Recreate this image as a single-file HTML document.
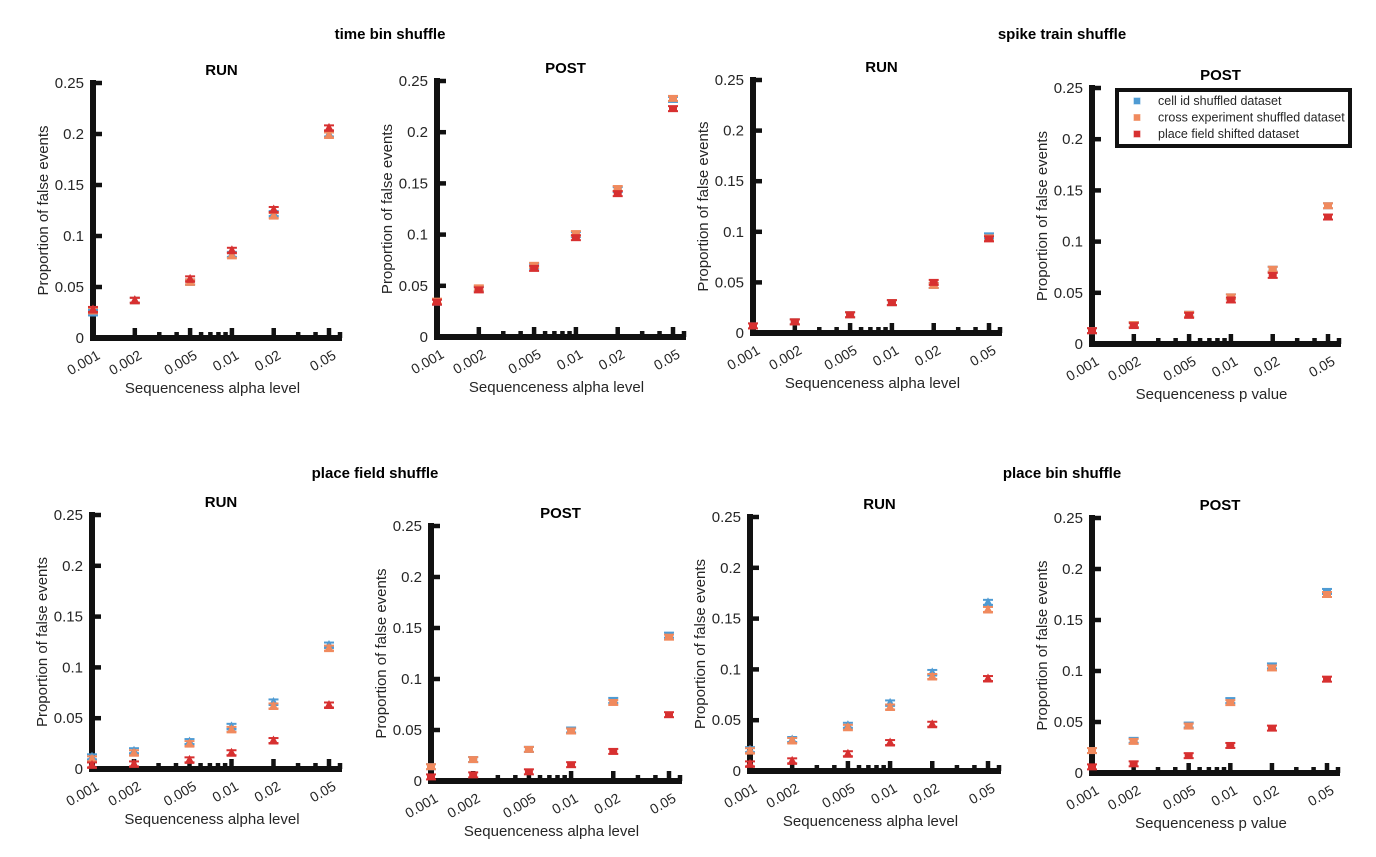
<!DOCTYPE html>
<html><head><meta charset="utf-8"><style>
body{margin:0;background:#fff;}
svg text{font-family:"Liberation Sans",Arial,sans-serif;fill:#262626;}
</style></head><body>
<svg id="fig" width="1376" height="852" xmlns="http://www.w3.org/2000/svg">
<text x="390" y="39" font-size="15" font-weight="bold" text-anchor="middle" style="fill:#000">time bin shuffle</text>
<text x="1062" y="39" font-size="15" font-weight="bold" text-anchor="middle" style="fill:#000">spike train shuffle</text>
<text x="375" y="478" font-size="15" font-weight="bold" text-anchor="middle" style="fill:#000">place field shuffle</text>
<text x="1062" y="478" font-size="15" font-weight="bold" text-anchor="middle" style="fill:#000">place bin shuffle</text>
</svg>
<script>
const xCats=[0.001,0.002,0.005,0.01,0.02,0.05];
const xTickLabels=["0.001","0.002","0.005","0.01","0.02","0.05"];
const yTicks=[0,0.05,0.1,0.15,0.2,0.25];
const yTickLabels=["0","0.05","0.1","0.15","0.2","0.25"];
const seriesNames=["cell id shuffled dataset","cross experiment shuffled dataset","place field shifted dataset"];
const p1Blue=[0.025,0.037,0.055,0.082,0.122,0.200];
const p1Orange=[0.027,0.037,0.055,0.081,0.120,0.199];
const p1Red=[0.028,0.037,0.058,0.086,0.126,0.206];
const p2Blue=[0.034,0.047,0.069,0.100,0.144,0.232];
const p2Orange=[0.035,0.048,0.070,0.101,0.145,0.233];
const p2Red=[0.034,0.046,0.067,0.097,0.140,0.223];
const p3Blue=[0.007,0.011,0.018,0.030,0.047,0.096];
const p3Orange=[0.007,0.011,0.018,0.030,0.047,0.094];
const p3Red=[0.007,0.011,0.018,0.030,0.050,0.093];
const p4Blue=[0.013,0.019,0.029,0.046,0.073,0.135];
const p4Orange=[0.013,0.019,0.029,0.046,0.073,0.135];
const p4Red=[0.013,0.018,0.028,0.043,0.067,0.124];
const p5Blue=[0.012,0.018,0.027,0.042,0.066,0.122];
const p5Orange=[0.010,0.016,0.025,0.039,0.062,0.119];
const p5Red=[0.004,0.005,0.009,0.016,0.028,0.063];
const p6Blue=[0.014,0.021,0.031,0.050,0.079,0.143];
const p6Orange=[0.014,0.021,0.031,0.049,0.077,0.141];
const p6Red=[0.004,0.006,0.009,0.016,0.029,0.065];
const p7Blue=[0.021,0.031,0.045,0.067,0.097,0.166];
const p7Orange=[0.020,0.030,0.043,0.063,0.093,0.159];
const p7Red=[0.007,0.010,0.017,0.028,0.046,0.091];
const p8Blue=[0.022,0.032,0.047,0.071,0.105,0.178];
const p8Orange=[0.022,0.031,0.046,0.069,0.103,0.175];
const p8Red=[0.006,0.009,0.017,0.027,0.044,0.092];
const colors=["#4f9bd3","#f08a5e","#d73030"];
const panels=[
 {id:"p1",t:"RUN",x0:93,top:83,bot:338,right:342,xl:"Sequenceness alpha level",s:[p1Blue,p1Orange,p1Red],tri:true},
 {id:"p2",t:"POST",x0:437,top:81,bot:337,right:686,xl:"Sequenceness alpha level",s:[p2Blue,p2Orange,p2Red]},
 {id:"p3",t:"RUN",x0:753,top:80,bot:333,right:1002,xl:"Sequenceness alpha level",s:[p3Blue,p3Orange,p3Red]},
 {id:"p4",t:"POST",x0:1092,top:88,bot:344,right:1341,xl:"Sequenceness p value",s:[p4Blue,p4Orange,p4Red],legend:true},
 {id:"p5",t:"RUN",x0:92,top:515,bot:769,right:342,xl:"Sequenceness alpha level",s:[p5Blue,p5Orange,p5Red],tri:true},
 {id:"p6",t:"POST",x0:431,top:526,bot:781,right:682,xl:"Sequenceness alpha level",s:[p6Blue,p6Orange,p6Red]},
 {id:"p7",t:"RUN",x0:750,top:517,bot:771,right:1001,xl:"Sequenceness alpha level",s:[p7Blue,p7Orange,p7Red],tri:true},
 {id:"p8",t:"POST",x0:1092,top:518,bot:773,right:1340,xl:"Sequenceness p value",s:[p8Blue,p8Orange,p8Red]}
];
const NS="http://www.w3.org/2000/svg";
const svg=document.getElementById('fig');
function mk(tag,attrs,parent,txt){const e=document.createElementNS(NS,tag);for(const k in attrs)e.setAttribute(k,attrs[k]);if(txt!==undefined)e.textContent=txt;parent.appendChild(e);return e;}
panels.forEach(p=>{
 const g=mk('g',{},svg);
 
 
 const span=Math.log10(0.05/0.001);
 const x0pix=p.x0, x5=p.right-13;
 const xs=v=>x0pix+(Math.log10(v/0.001)/span)*(x5-x0pix);
 const ys=v=>p.bot-(v/0.25)*(p.bot-p.top);
 const cx=(p.x0+p.right)/2;
 const tt=mk('text',{x:cx+4,y:p.top-8,'font-size':15,'font-weight':'bold','text-anchor':'middle',style:'fill:#000'},g,p.t);
 
 
 const ya=mk('line',{x1:p.x0,y1:p.top-3,x2:p.x0,y2:p.bot+3,stroke:'#111','stroke-width':6},g);
 
 
 const xa=mk('line',{x1:p.x0-3,y1:p.bot,x2:p.right,y2:p.bot,stroke:'#111','stroke-width':6},g);
 
 
 yTicks.forEach((v,i)=>{
  const y=ys(v);
  if(i>0)mk('line',{x1:p.x0,y1:y,x2:p.x0+9,y2:y,stroke:'#111','stroke-width':4.5},g);
  const lb=mk('text',{x:p.x0-9,y:y+5,'font-size':15,'text-anchor':'end'},g,yTickLabels[i]);
  
  
 });
 const minors=[0.003,0.004,0.006,0.007,0.008,0.009,0.03,0.04];
 minors.forEach(v=>{const x=xs(v);mk('line',{x1:x,y1:p.bot,x2:x,y2:p.bot-6,stroke:'#111','stroke-width':4.5},g);});
 xCats.forEach((v,i)=>{
  const x=xs(v);
  if(i>0)mk('line',{x1:x,y1:p.bot,x2:x,y2:p.bot-10,stroke:'#111','stroke-width':4.5},g);
  const lb=mk('text',{x:x+8,y:p.bot+20,'font-size':14,'text-anchor':'end',transform:`rotate(-30 ${x+8} ${p.bot+20})`},g,xTickLabels[i]);
  
  
 });
 mk('line',{x1:p.right-2,y1:p.bot,x2:p.right-2,y2:p.bot-6,stroke:'#111','stroke-width':4.5},g);
 const xl=mk('text',{x:(p.x0+p.right)/2-5,y:p.bot+55,'font-size':15,'text-anchor':'middle'},g,p.xl);
 
 
 const ymid=(p.top+p.bot)/2, ylx=p.x0-45;
 const yl=mk('text',{x:ylx,y:ymid,'font-size':15,'text-anchor':'middle',transform:`rotate(-90 ${ylx} ${ymid})`},g,'Proportion of false events');
 
 
 p.s.forEach((arr,si)=>{
  arr.forEach((v,i)=>{
   const x=xs(xCats[i]),y=ys(v),c=colors[si],e=2.5;
   const mg=mk('g',{},g);
   
   
   mk('line',{x1:x,y1:y-e,x2:x,y2:y+e,stroke:c,'stroke-width':2},mg);
   mk('line',{x1:x-5,y1:y-e,x2:x+5,y2:y-e,stroke:c,'stroke-width':2},mg);
   mk('line',{x1:x-5,y1:y+e,x2:x+5,y2:y+e,stroke:c,'stroke-width':2},mg);
   if(p.tri) mk('polygon',{points:`${x-5},${y+4} ${x+5},${y+4} ${x},${y-5}`,fill:c},mg);
   else mk('rect',{x:x-4,y:y-3,width:8,height:6,fill:c},mg);
  });
 });
 if(p.legend){
  const lg=mk('g',{},g);
  
  
  mk('rect',{x:1117,y:90,width:233,height:56,fill:'#fff',stroke:'#111','stroke-width':4},lg);
  seriesNames.forEach((n,i)=>{
   const y=101+i*16.5;
   const en=mk('g',{},lg);
   
   
   mk('rect',{x:1134,y:y-3,width:6,height:6,fill:colors[i],stroke:colors[i],'stroke-opacity':0.6},en);
   mk('text',{x:1158,y:y+4,'font-size':12.5},en,n);
  });
 }
});
</script>
</body></html>
